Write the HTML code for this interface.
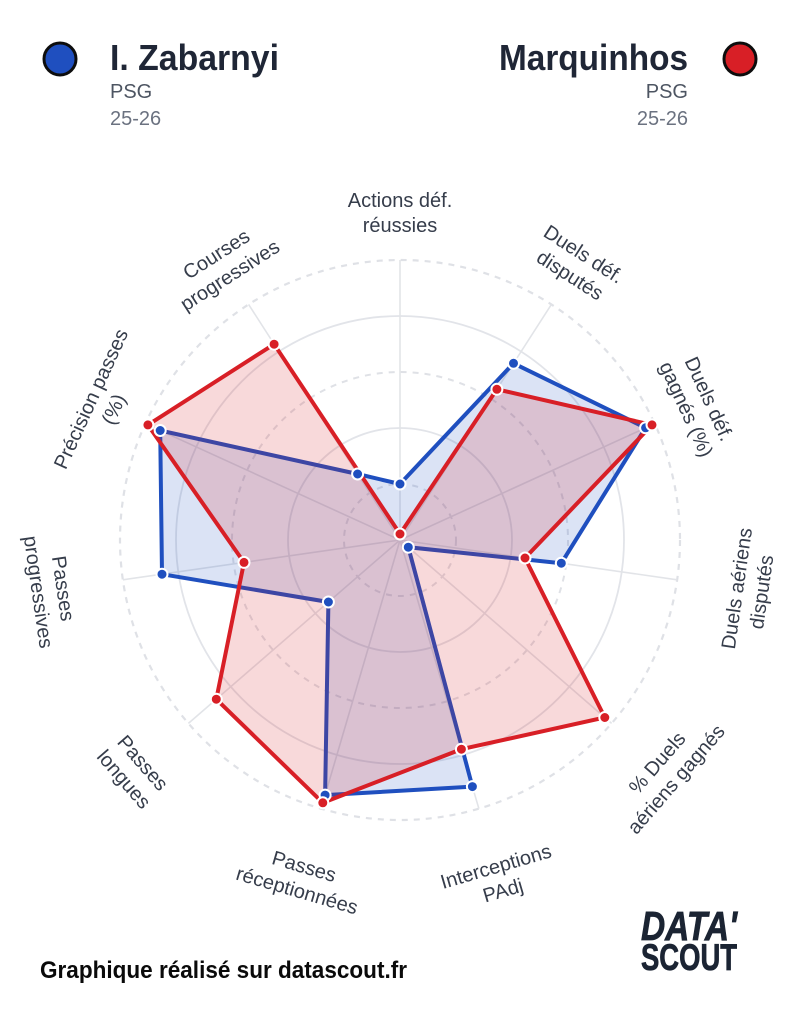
<!DOCTYPE html>
<html>
<head>
<meta charset="utf-8">
<style>
  html, body { margin:0; padding:0; background:#ffffff; }
  body { width:800px; height:1020px; overflow:hidden; }
  svg { display:block; }
  .lbl { font-family:"Liberation Sans", Arial, sans-serif; font-size:20px; fill:#363d4b; }
</style>
</head>
<body>
<svg width="800" height="1020" viewBox="0 0 800 1020" xmlns="http://www.w3.org/2000/svg">
  <rect x="0" y="0" width="800" height="1020" fill="#ffffff"/>

  <!-- Header left -->
  <circle cx="60" cy="59" r="16" fill="#1f4fbf" stroke="#0d0d0d" stroke-width="3"/>
  <text x="110" y="70" font-family="Liberation Sans, Arial, sans-serif" font-weight="bold" font-size="36" fill="#1f2636" textLength="169" lengthAdjust="spacingAndGlyphs">I. Zabarnyi</text>
  <text x="110" y="98" font-family="Liberation Sans, Arial, sans-serif" font-size="20" fill="#4d5562">PSG</text>
  <text x="110" y="125" font-family="Liberation Sans, Arial, sans-serif" font-size="20" fill="#6b7280">25-26</text>

  <!-- Header right -->
  <circle cx="740" cy="59" r="16" fill="#d81f26" stroke="#0d0d0d" stroke-width="3"/>
  <text x="688" y="70" text-anchor="end" font-family="Liberation Sans, Arial, sans-serif" font-weight="bold" font-size="36" fill="#1f2636" textLength="189" lengthAdjust="spacingAndGlyphs">Marquinhos</text>
  <text x="688" y="98" text-anchor="end" font-family="Liberation Sans, Arial, sans-serif" font-size="20" fill="#4d5562">PSG</text>
  <text x="688" y="125" text-anchor="end" font-family="Liberation Sans, Arial, sans-serif" font-size="20" fill="#6b7280">25-26</text>

  <!-- Grid rings -->
  <g fill="none">
    <circle cx="400" cy="540" r="280" stroke="#dfe1e6" stroke-width="2.2" stroke-dasharray="6 6"/>
    <circle cx="400" cy="540" r="224" stroke="#e2e4e9" stroke-width="1.8"/>
    <circle cx="400" cy="540" r="168" stroke="#dfe1e6" stroke-width="2" stroke-dasharray="6 6"/>
    <circle cx="400" cy="540" r="112" stroke="#e2e4e9" stroke-width="1.8"/>
    <circle cx="400" cy="540" r="56" stroke="#dfe1e6" stroke-width="2" stroke-dasharray="6 6"/>
  </g>

  <!-- Axes -->
  <g stroke="#e2e4e8" stroke-width="1.6">
    <line x1="400" y1="540" x2="400" y2="260"/>
    <line x1="400" y1="540" x2="551.4" y2="304.4"/>
    <line x1="400" y1="540" x2="654.7" y2="423.7"/>
    <line x1="400" y1="540" x2="677.1" y2="579.8"/>
    <line x1="400" y1="540" x2="611.6" y2="723.4"/>
    <line x1="400" y1="540" x2="478.9" y2="808.7"/>
    <line x1="400" y1="540" x2="321.1" y2="808.7"/>
    <line x1="400" y1="540" x2="188.4" y2="723.4"/>
    <line x1="400" y1="540" x2="122.9" y2="579.8"/>
    <line x1="400" y1="540" x2="145.3" y2="423.7"/>
    <line x1="400" y1="540" x2="248.6" y2="304.4"/>
  </g>

  <!-- Blue polygon -->
  <polygon points="400,484 513.5,363.3 645.6,427.8 561.3,563.2 408.3,547.2 472.4,786.6 325.1,795.1 328.4,602 162,574.2 160.2,430.5 357.6,474"
           fill="rgba(31,79,191,0.16)" stroke="#1f4fbf" stroke-width="4" stroke-linejoin="miter"/>
  <!-- Red polygon -->
  <polygon points="400,534 496.9,389.3 652,424.9 525,558 604.8,717.5 461.4,749.2 322.8,802.8 216.3,699.2 244,562.4 147.9,424.9 274.1,344.2"
           fill="rgba(216,31,38,0.17)" stroke="#d81f26" stroke-width="4" stroke-linejoin="miter"/>

  <!-- Blue dots -->
  <g fill="#1f4fbf" stroke="#ffffff" stroke-width="2">
    <circle cx="400" cy="484" r="5.5"/>
    <circle cx="513.5" cy="363.3" r="5.5"/>
    <circle cx="645.6" cy="427.8" r="5.5"/>
    <circle cx="561.3" cy="563.2" r="5.5"/>
    <circle cx="408.3" cy="547.2" r="5.5"/>
    <circle cx="472.4" cy="786.6" r="5.5"/>
    <circle cx="325.1" cy="795.1" r="5.5"/>
    <circle cx="328.4" cy="602" r="5.5"/>
    <circle cx="162" cy="574.2" r="5.5"/>
    <circle cx="160.2" cy="430.5" r="5.5"/>
    <circle cx="357.6" cy="474" r="5.5"/>
  </g>
  <!-- Red dots -->
  <g fill="#d81f26" stroke="#ffffff" stroke-width="2">
    <circle cx="400" cy="534" r="5.5"/>
    <circle cx="496.9" cy="389.3" r="5.5"/>
    <circle cx="652" cy="424.9" r="5.5"/>
    <circle cx="525" cy="558" r="5.5"/>
    <circle cx="604.8" cy="717.5" r="5.5"/>
    <circle cx="461.4" cy="749.2" r="5.5"/>
    <circle cx="322.8" cy="802.8" r="5.5"/>
    <circle cx="216.3" cy="699.2" r="5.5"/>
    <circle cx="244" cy="562.4" r="5.5"/>
    <circle cx="147.9" cy="424.9" r="5.5"/>
    <circle cx="274.1" cy="344.2" r="5.5"/>
  </g>

  <!-- Axis labels -->
  <g class="lbl" text-anchor="middle">
    <g transform="translate(400,200) rotate(0)">
      <text><tspan x="0" y="7">Actions déf.</tspan><tspan x="0" y="32">réussies</tspan></text>
    </g>
    <g transform="translate(583.8,254) rotate(32.73)">
      <text><tspan x="0" y="7">Duels déf.</tspan><tspan x="0" y="32">disputés</tspan></text>
    </g>
    <g transform="translate(709.3,398.8) rotate(65.45)">
      <text><tspan x="0" y="7">Duels déf.</tspan><tspan x="0" y="32">gagnés (%)</tspan></text>
    </g>
    <g transform="translate(736.5,588.4) rotate(-81.82)">
      <text><tspan x="0" y="7">Duels aériens</tspan><tspan x="0" y="32">disputés</tspan></text>
    </g>
    <g transform="translate(657,762.7) rotate(-49.09)">
      <text><tspan x="0" y="7">% Duels</tspan><tspan x="0" y="32">aériens gagnés</tspan></text>
    </g>
    <g transform="translate(495.8,866.2) rotate(-16.36)">
      <text><tspan x="0" y="7">Interceptions</tspan><tspan x="0" y="32">PAdj</tspan></text>
    </g>
    <g transform="translate(304.2,866.2) rotate(16.36)">
      <text><tspan x="0" y="7">Passes</tspan><tspan x="0" y="32">réceptionnées</tspan></text>
    </g>
    <g transform="translate(143,762.7) rotate(49.09)">
      <text><tspan x="0" y="7">Passes</tspan><tspan x="0" y="32">longues</tspan></text>
    </g>
    <g transform="translate(63.5,588.4) rotate(81.82)">
      <text><tspan x="0" y="7">Passes</tspan><tspan x="0" y="32">progressives</tspan></text>
    </g>
    <g transform="translate(90.7,398.8) rotate(-65.45)">
      <text><tspan x="0" y="7">Précision passes</tspan><tspan x="0" y="32">(%)</tspan></text>
    </g>
    <g transform="translate(216.2,254) rotate(-32.73)">
      <text><tspan x="0" y="7">Courses</tspan><tspan x="0" y="32">progressives</tspan></text>
    </g>
  </g>

  <!-- Footer -->
  <text x="40" y="978" font-family="Liberation Sans, Arial, sans-serif" font-weight="bold" font-size="24" fill="#0a0a0a" textLength="367" lengthAdjust="spacingAndGlyphs">Graphique réalisé sur datascout.fr</text>

  <!-- Logo -->
  <text x="641" y="940" font-family="Liberation Sans, Arial, sans-serif" font-weight="bold" font-style="italic" font-size="41" fill="#1b2433" stroke="#1b2433" stroke-width="0.8" textLength="96" lengthAdjust="spacingAndGlyphs">DATA'</text>
  <text x="641" y="970" font-family="Liberation Sans, Arial, sans-serif" font-weight="bold" font-size="37" fill="#1b2433" stroke="#1b2433" stroke-width="0.8" textLength="96" lengthAdjust="spacingAndGlyphs">SCOUT</text>
</svg>
</body>
</html>
